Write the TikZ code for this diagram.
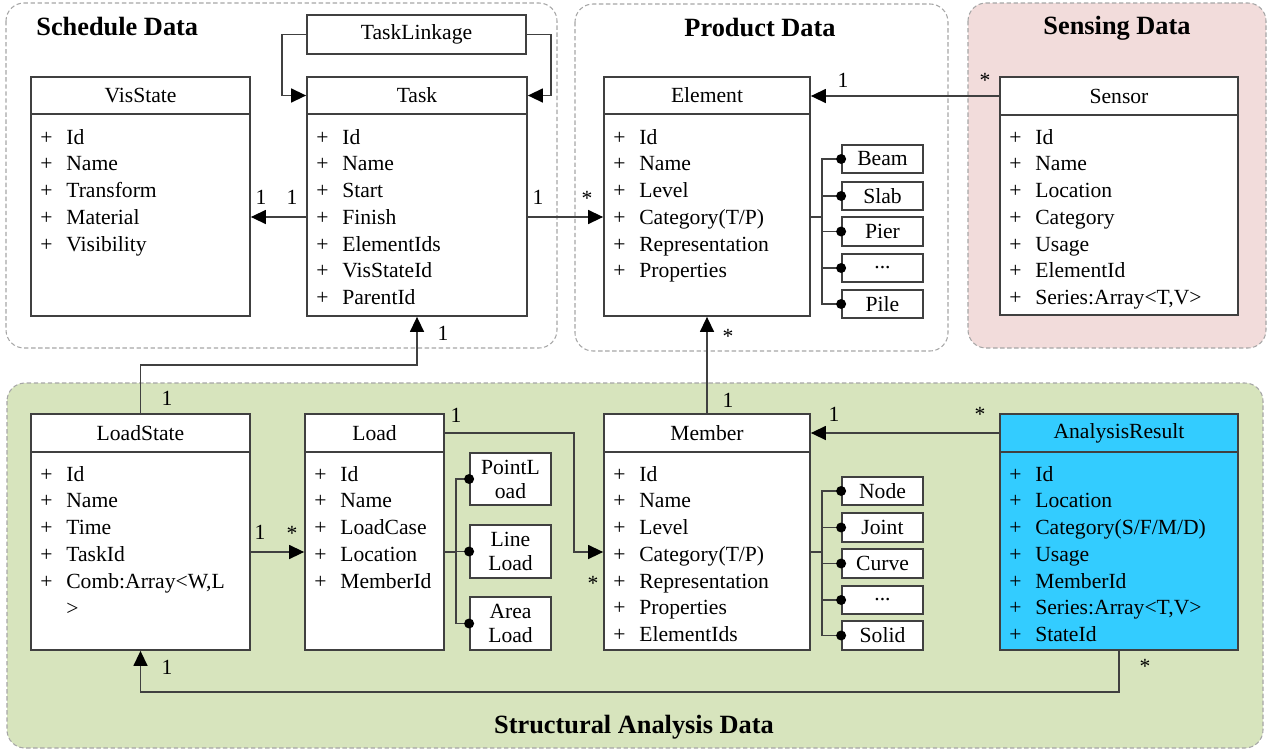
\documentclass[tikz,border=0pt]{standalone}
\usepackage{fontspec}
\setmainfont{Liberation Serif}
\usetikzlibrary{arrows.meta}

\definecolor{boxline}{HTML}{404040}
\definecolor{connline}{HTML}{404040}
\definecolor{grpline}{HTML}{A6A6A6}
\definecolor{sensefill}{HTML}{F2DCDB}
\definecolor{structfill}{HTML}{D7E4BD}
\definecolor{resultfill}{HTML}{33CCFF}

\newcommand\fs{\fontsize{12.3}{13.6}\selectfont}

% rectangle node given by its corners: [style]{name}{x1}{y1}{x2}{y2}{text}
\newcommand\bx[7][]{%
  \node[#1, minimum width={(#5-#3)*0.02cm}, minimum height={(#6-#4)*0.02cm}]
    (#2) at ({(#3+#5)/2},{(#4+#6)/2}) {#7};%
}

% one "+ attribute" row per item, 26.75 units apart
\newcommand\attrlist[4]{%
  \foreach \t [count=\i] in {#4} {%
    \node[attr] (#1\i) at ({#2+9},{#3+26.75*(\i-1)}) {\makebox[0.52cm][l]{+}\t};
  }%
}

\tikzset{
  grp/.style={draw=grpline, dash pattern=on 2.5pt off 1.5pt, rounded corners=0.36cm, line width=0.6pt},
  hdr/.style={draw=boxline, fill=white, line width=1pt, inner sep=0pt, font=\fs},
  bdy/.style={draw=boxline, fill=white, line width=1pt, inner sep=0pt},
  attr/.style={anchor=west, inner sep=0pt, font=\fs, text height=8.1pt, text depth=0pt},
  sub/.style={draw=boxline, fill=white, line width=1pt, inner sep=0pt, font=\fs, align=center},
  conn/.style={draw=connline, line width=0.8pt},
  arr/.style={conn, -{Triangle[length=0.3cm, width=0.28cm, black]}},
  mult/.style={inner sep=0pt, font=\fs, text height=8.1pt, text depth=0pt},
  gtitle/.style={inner sep=0pt, font=\fontsize{15}{18}\selectfont\bfseries},
}

\begin{document}
\begin{tikzpicture}[x=0.02cm, y=-0.02cm]
\useasboundingbox (0,0) rectangle (1269,751);

% ---------- group frames ----------
\draw[grp, fill=white] (6,3) rectangle (557,348);
\draw[grp, fill=white] (575,4) rectangle (948,351);
\draw[grp, fill=sensefill] (968,3) rectangle (1266,348);
\draw[grp, fill=structfill] (7,383) rectangle (1263,748);

\node[gtitle, anchor=west] (tSched) at (36,27) {Schedule Data};
\node[gtitle] (tProd) at (760,28) {Product Data};
\node[gtitle] (tSens) at (1117,28) {Sensing Data};
\node[gtitle] (tStruct) at (634,727) {Structural Analysis Data};

% ---------- schedule data ----------
\bx[hdr]{tl}{307}{15}{526}{54}{TaskLinkage}

\bx[hdr]{vsH}{31}{77}{250}{114}{VisState}
\bx[bdy]{vsB}{31}{114}{250}{316}{}
\attrlist{vs}{31}{137}{Id,Name,Transform,Material,Visibility}

\bx[hdr]{taskH}{307}{77}{527}{114}{Task}
\bx[bdy]{taskB}{307}{114}{527}{316}{}
\attrlist{task}{307}{137}{Id,Name,Start,Finish,ElementIds,VisStateId,ParentId}

% ---------- product data ----------
\bx[hdr]{elH}{604}{77}{810}{114}{Element}
\bx[bdy]{elB}{604}{114}{810}{316}{}
\attrlist{el}{604}{137}{Id,Name,Level,Category(T/P),Representation,Properties}

\bx[sub]{beam}{842}{145}{923}{173}{Beam}
\bx[sub]{slab}{842}{182}{923}{210}{Slab}
\bx[sub]{pier}{842}{217}{923}{246}{Pier}
\bx[sub]{etc1}{842}{254}{923}{282}{...}
\bx[sub]{pile}{842}{290}{923}{318}{Pile}

% ---------- sensing data ----------
\bx[hdr]{snH}{1000}{77}{1238}{115}{Sensor}
\bx[bdy]{snB}{1000}{115}{1238}{315}{}
\attrlist{sn}{1000}{137}{Id,Name,Location,Category,Usage,ElementId,{Series:Array<T,V>}}

% ---------- structural analysis data ----------
\bx[hdr]{lsH}{31}{414}{250}{452}{LoadState}
\bx[bdy]{lsB}{31}{452}{250}{650}{}
\attrlist{ls}{31}{474}{Id,Name,Time,TaskId,{Comb:Array<W,L}}
\node[attr] (ls6) at (66,608) {>};

\bx[hdr]{ldH}{305}{414}{444}{452}{Load}
\bx[bdy]{ldB}{305}{452}{444}{650}{}
\attrlist{ld}{305}{474}{Id,Name,LoadCase,Location,MemberId}

\bx[sub]{pload}{470}{453}{551}{505}{PointL\\oad}
\bx[sub]{lload}{470}{525}{551}{578}{Line\\Load}
\bx[sub]{aload}{470}{597}{551}{650}{Area\\Load}

\bx[hdr]{mbH}{604}{414}{810}{452}{Member}
\bx[bdy]{mbB}{604}{452}{810}{650}{}
\attrlist{mb}{604}{474}{Id,Name,Level,Category(T/P),Representation,Properties,ElementIds}

\bx[sub]{node}{842}{477}{923}{505}{Node}
\bx[sub]{joint}{842}{513}{923}{542}{Joint}
\bx[sub]{curve}{842}{549}{923}{578}{Curve}
\bx[sub]{etc2}{842}{586}{923}{614}{...}
\bx[sub]{solid}{842}{621}{923}{650}{Solid}

\bx[hdr, fill=resultfill]{arH}{1000}{414}{1238}{452}{AnalysisResult}
\bx[bdy, fill=resultfill]{arB}{1000}{452}{1238}{650}{}
\attrlist{ar}{1000}{474}{Id,Location,Category(S/F/M/D),Usage,MemberId,{Series:Array<T,V>},StateId}

% ---------- associations ----------
\draw[arr] (tl.west) -- ++(-24,0) |- (taskH.west);
\draw[arr] (tl.east) -- ++(24,0) |- (taskH.east);
\draw[arr] (taskB.west |- 0,217) -- (vsB.east |- 0,217);
\draw[arr] (taskB.east |- 0,217) -- (elB.west |- 0,217);
\draw[arr] (snH.west) -- (snH.west -| elH.east);
\draw[arr] (mbH.north) -- (elB.south);
\draw[arr] (lsH.north) -- ++(0,-48) -| (taskB.south);
\draw[arr] (arH.west) -- (arH.west -| mbH.east);
\draw[arr] (lsB.east |- 0,552) -- (ldB.west |- 0,552);
\draw[arr] (ldH.east) -- ++(129,0) |- (mbB.west |- 0,552);
\draw[arr] (arB.south) -- ++(0,41) -| (lsB.south);

% ---------- subtype branches ----------
\coordinate (ej) at (822,217);
\draw[conn] (elB.east |- ej) -- (ej);
\foreach \b in {beam,slab,pier,etc1,pile} {
  \draw[conn] (ej) |- (\b.west);
  \fill (\b.west) circle[radius=0.1cm];
}
\coordinate (mj) at (822,552);
\draw[conn] (mbB.east |- mj) -- (mj);
\foreach \b in {node,joint,curve,etc2,solid} {
  \draw[conn] (mj) |- (\b.west);
  \fill (\b.west) circle[radius=0.1cm];
}
\coordinate (lj) at (456,552);
\draw[conn] (ldB.east |- lj) -- (lj);
\foreach \b in {pload,lload,aload} {
  \draw[conn] (lj) |- (\b.west);
  \fill (\b.west) circle[radius=0.1cm];
}

% ---------- multiplicities ----------
\node[mult] (m1) at (261,197) {1};
\node[mult] (m2) at (292,197) {1};
\node[mult] (m3) at (538,197) {1};
\node[mult] (m4) at (587,198) {*};
\node[mult] (m5) at (843,80) {1};
\node[mult] (m6) at (985,80) {*};
\node[mult] (m7) at (167,398) {1};
\node[mult] (m8) at (443,333) {1};
\node[mult] (m9) at (728,400) {1};
\node[mult] (m10) at (728,336) {*};
\node[mult] (m11) at (834,414) {1};
\node[mult] (m12) at (980,414) {*};
\node[mult] (m13) at (260,532) {1};
\node[mult] (m14) at (292,533) {*};
\node[mult] (m15) at (456,415) {1};
\node[mult] (m16) at (593,583) {*};
\node[mult] (m17) at (167,667) {1};
\node[mult] (m18) at (1145,666) {*};
\end{tikzpicture}
\end{document}
